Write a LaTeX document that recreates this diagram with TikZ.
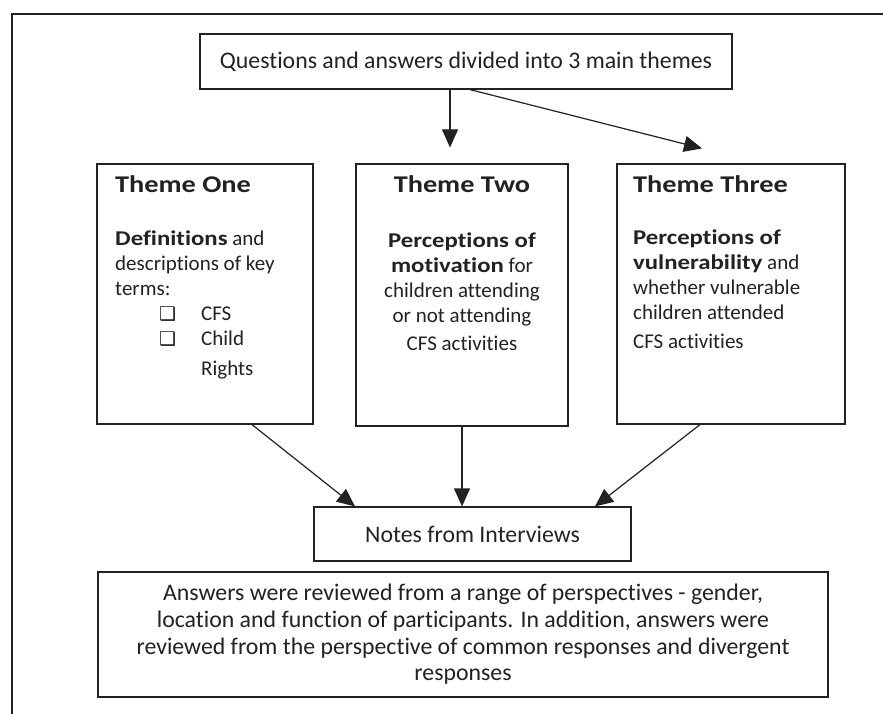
\documentclass[tikz,border=0pt]{standalone}
\usepackage{fontspec}
\setmainfont[Ligatures=NoCommon,BoldFeatures={FakeStretch=1.18}]{Carlito}
\newfontfamily\symfont{DejaVu Sans}
\usetikzlibrary{arrows.meta,calc}
\definecolor{ink}{HTML}{222222}
\newcommand{\bodyfnt}{\fontsize{21}{25}\selectfont}
\newcommand{\bigfnt}{\fontsize{23.8}{26.7}\selectfont}
\newcommand{\titlefnt}{\fontsize{24}{28}\selectfont\bfseries}
\newcommand{\cbox}{\makebox[42pt][l]{\fontsize{19}{19}\selectfont\symfont ❑}}
\begin{document}
\begin{tikzpicture}[x=1pt,y=-1pt,
  box/.style={draw=ink, line width=1.2pt, inner sep=0pt, text=ink},
  txt/.style={inner sep=0pt, text=ink},
  arr/.style={draw=ink, line width=1.2pt, -{Triangle[length=18pt,width=16pt]}}]
\useasboundingbox[fill=white] (0,0) rectangle (883,714);
\draw[ink, line width=1.5pt] (12,714) -- (12,14) -- (883,14);

\node[box, minimum width=532pt, minimum height=55pt, font=\bigfnt] (q) at (466,61.5)
  {Questions and answers divided into 3 main themes};

\node[box, minimum width=216pt, minimum height=260pt] (t1) at (205,294) {};
\node[box, minimum width=212pt, minimum height=262pt] (t2) at (462,295) {};
\node[box, minimum width=228pt, minimum height=260pt] (t3) at (731,294) {};

\node[txt, anchor=base west, font=\titlefnt] (h1) at (115,193) {Theme One};
\node[txt, anchor=base, font=\titlefnt] (h2) at (462,193) {Theme Two};
\node[txt, anchor=base west, font=\titlefnt] (h3) at (633,193) {Theme Three};

\node[txt, anchor=base west, align=left, font=\bodyfnt] (b1) at (115,375)
  {\textbf{Definitions} and\\descriptions of key\\terms:\\
   \hspace*{44pt}\cbox CFS\\
   \hspace*{44pt}\cbox Child\\[5pt]
   \hspace*{86pt}Rights};
\node[txt, anchor=base, align=center, font=\bodyfnt] (b2) at (462,350)
  {\textbf{Perceptions of}\\\textbf{motivation} for\\children attending\\or not attending\\[3pt]CFS activities};
\node[txt, anchor=base west, align=left, font=\bodyfnt] (b3) at (633,348)
  {\textbf{Perceptions of}\\\textbf{vulnerability} and\\whether vulnerable\\children attended\\[4pt]CFS activities};

\node[box, minimum width=317pt, minimum height=54pt, font=\bigfnt] (n) at (472.5,534)
  {Notes from Interviews};
\node[box, minimum width=730pt, minimum height=125pt, align=center, font=\bigfnt] (r) at (463,634.5)
  {Answers were reviewed from a range of perspectives - gender,\\
   location and function of participants. In addition, answers were\\
   reviewed from the perspective of common responses and divergent\\
   responses};

\draw[arr] ([xshift=-16pt]q.south) -- ([xshift=-12pt,yshift=16pt]t2.north);
\draw[arr] ([xshift=4pt]q.south) -- ([xshift=-29pt,yshift=15pt]t3.north);
\draw[arr] ([xshift=47pt]t1.south) -- ([xshift=-117.5pt]n.north);
\draw[arr] (t2.south) -- ([xshift=-10.5pt]n.north);
\draw[arr] ([xshift=-31pt]t3.south) -- ([xshift=122.5pt]n.north);
\end{tikzpicture}
\end{document}
